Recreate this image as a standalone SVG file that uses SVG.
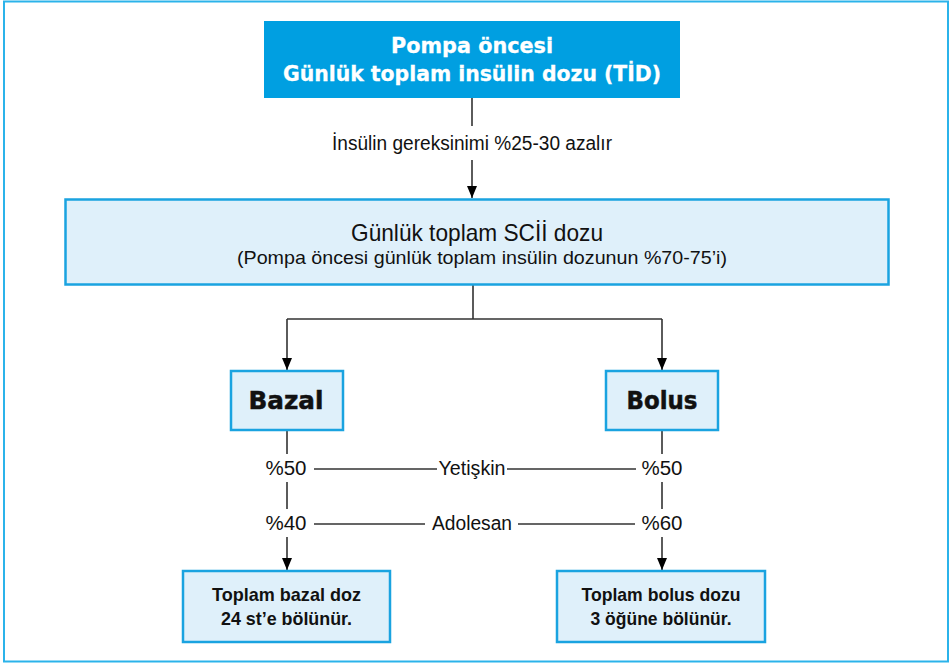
<svg xmlns="http://www.w3.org/2000/svg" width="951" height="664" viewBox="0 0 951 664">
  <defs>
    <marker id="arrow" viewBox="0 0 12 10" refX="12" refY="5" markerWidth="12" markerHeight="10" markerUnits="userSpaceOnUse" orient="auto">
      <path d="M0,0 L12,5 L0,10 Z" fill="#000"/>
    </marker>
    <style>
      .frame { fill: #fff; stroke: #2bb3ea; stroke-width: 2; }
      .head { fill: #009fe1; }
      .box { fill: #dff0fa; stroke: #1aa3e0; stroke-width: 2.5; }
      .wire { fill: none; stroke: #333; stroke-width: 1.6; }
      .t { font-family: "Liberation Sans", Arial, sans-serif; fill: #111; text-anchor: middle; }
      .heavy { font-family: "DejaVu Sans", "Liberation Sans", sans-serif; font-weight: bold; }
      .hb { fill: #fff; font-size: 20.5px; stroke: #fff; stroke-width: 0.3; }
      .big { font-size: 24px; stroke: #111; stroke-width: 0.5; }
      .sm { font-weight: bold; font-size: 18.5px; }
      .lbl { font-size: 20px; }
    </style>
  </defs>

  <rect class="frame" x="4" y="1.5" width="944" height="660"/>

  <g id="connectors">
    <path class="wire" d="M472,98 V126"/>
    <path class="wire" d="M472,160 V198" marker-end="url(#arrow)"/>
    <path class="wire" d="M473,285 V319 M287,319 H662"/>
    <path class="wire" d="M287,319 V370" marker-end="url(#arrow)"/>
    <path class="wire" d="M662,319 V370" marker-end="url(#arrow)"/>
    <path class="wire" d="M287,430 V454 M287,482 V509"/>
    <path class="wire" d="M287,537 V570" marker-end="url(#arrow)"/>
    <path class="wire" d="M662,430 V454 M662,482 V509"/>
    <path class="wire" d="M662,537 V570" marker-end="url(#arrow)"/>
    <path class="wire" d="M314,469 H437 M507,469 H636"/>
    <path class="wire" d="M314,524 H425 M518,524 H635"/>
    <text class="t" x="472" y="150" font-size="19.5" textLength="280" lengthAdjust="spacingAndGlyphs">İnsülin gereksinimi %25-30 azalır</text>
    <text class="t lbl" x="286" y="475" textLength="41" lengthAdjust="spacingAndGlyphs">%50</text>
    <text class="t lbl" x="662" y="475" textLength="41" lengthAdjust="spacingAndGlyphs">%50</text>
    <text class="t lbl" x="472" y="475" textLength="67" lengthAdjust="spacingAndGlyphs">Yetişkin</text>
    <text class="t lbl" x="286" y="530" textLength="41" lengthAdjust="spacingAndGlyphs">%40</text>
    <text class="t lbl" x="662" y="530" textLength="41" lengthAdjust="spacingAndGlyphs">%60</text>
    <text class="t lbl" x="472" y="530" textLength="80" lengthAdjust="spacingAndGlyphs">Adolesan</text>
  </g>

  <g id="tid">
    <rect class="head" x="264" y="21" width="416" height="77"/>
    <text class="t heavy hb" x="472" y="53" textLength="162" lengthAdjust="spacingAndGlyphs">Pompa öncesi</text>
    <text class="t heavy hb" x="472" y="81" textLength="378" lengthAdjust="spacingAndGlyphs">Günlük toplam insülin dozu (TİD)</text>
  </g>

  <g id="scii">
    <rect class="box" x="65.5" y="199.5" width="823" height="85"/>
    <text class="t" x="477" y="241" font-size="24" textLength="252" lengthAdjust="spacingAndGlyphs">Günlük toplam SCİİ dozu</text>
    <text class="t" x="482" y="264" font-size="18.5" textLength="490" lengthAdjust="spacingAndGlyphs">(Pompa öncesi günlük toplam insülin dozunun %70-75’i)</text>
  </g>

  <g id="bazal">
    <rect class="box" x="231" y="371" width="112" height="59"/>
    <text class="t heavy big" x="286" y="409" textLength="75" lengthAdjust="spacingAndGlyphs">Bazal</text>
  </g>

  <g id="bolus">
    <rect class="box" x="606" y="371" width="112" height="59"/>
    <text class="t heavy big" x="662" y="409" textLength="71" lengthAdjust="spacingAndGlyphs">Bolus</text>
  </g>

  <g id="bazal-total">
    <rect class="box" x="183" y="571" width="207" height="71"/>
    <text class="t sm" x="286.5" y="601" textLength="149" lengthAdjust="spacingAndGlyphs">Toplam bazal doz</text>
    <text class="t sm" x="286.5" y="625" textLength="131" lengthAdjust="spacingAndGlyphs">24 st’e bölünür.</text>
  </g>

  <g id="bolus-total">
    <rect class="box" x="557" y="571" width="208" height="71"/>
    <text class="t sm" x="661" y="601" textLength="159" lengthAdjust="spacingAndGlyphs">Toplam bolus dozu</text>
    <text class="t sm" x="661" y="625" textLength="141" lengthAdjust="spacingAndGlyphs">3 öğüne bölünür.</text>
  </g>
</svg>
